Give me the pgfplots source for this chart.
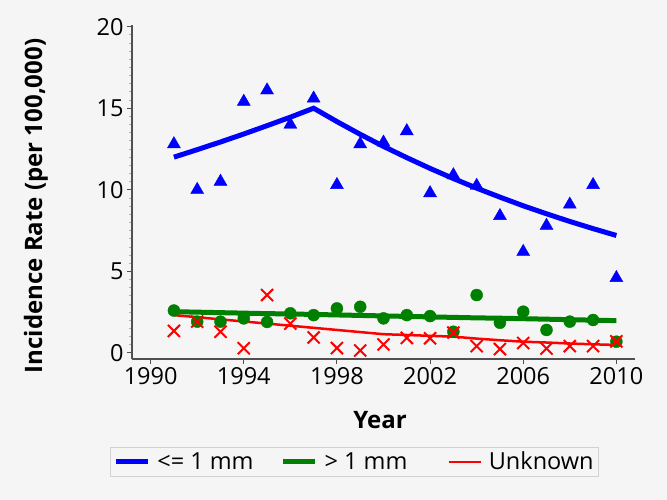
\documentclass[border=0pt]{standalone}
\usepackage{fontspec}
\setmainfont{Open Sans}
\usepackage{pgfplots}
\pgfplotsset{compat=1.18}
\definecolor{bgcol}{RGB}{245,245,245}
\definecolor{axcol}{RGB}{80,80,80}
\definecolor{sasgreen}{RGB}{0,128,0}
\begin{document}
\begin{tikzpicture}[x=1pt,y=1pt]
\fill[bgcol] (0,0) rectangle (667,500);
\begin{axis}[
  at={(132pt,141pt)}, anchor=south west,
  scale only axis, width=503pt, height=334pt,
  xmin=1989.2, xmax=2010.8, ymin=-0.37, ymax=20.1,
  axis lines*=left,
  axis line style={axcol, line width=1.2pt},
  xtick={1990,1994,...,2010}, ytick={0,5,...,20},
  minor y tick num=9,
  tick align=outside,
  major tick length=5pt, minor tick length=3pt,
  every major tick/.style={axcol, line width=1pt},
  every minor tick/.style={gray!60, line width=0.8pt},
  /pgf/number format/assume math mode=true,
  xticklabel style={/pgf/number format/1000 sep={}},
  ticklabel style={font=\fontsize{23.5}{27}\selectfont},
  clip=false,
  legend columns=3,
  legend style={at={(0.4423,-0.3078)}, anchor=center, draw=gray!35, fill=none,
    font=\fontsize{23.5}{27}\selectfont, inner xsep=3pt, inner ysep=3pt,
    /tikz/column 1/.style={column sep=5pt},
    /tikz/column 2/.style={column sep=25pt},
    /tikz/column 3/.style={column sep=5pt},
    /tikz/column 4/.style={column sep=38pt},
    /tikz/column 5/.style={column sep=5pt}},
  legend image code/.code={\draw[#1] (0pt,0pt) -- (32pt,0pt);},
]
\addlegendimage{blue, line width=5pt}
\addlegendentry{<= 1 mm}
\addlegendimage{sasgreen, line width=5pt}
\addlegendentry{> 1 mm}
\addlegendimage{red, line width=2.5pt}
\addlegendentry{Unknown}

% > 1 mm
\addplot[only marks, mark=*, mark size=6pt, sasgreen, forget plot] coordinates {
 (1991,2.6) (1992,1.92) (1993,1.92) (1994,2.12) (1995,1.9) (1996,2.43) (1997,2.32)
 (1998,2.73) (1999,2.83) (2000,2.12) (2001,2.32) (2002,2.26) (2003,1.3) (2004,3.55)
 (2005,1.85) (2006,2.53) (2007,1.41) (2008,1.92) (2009,2.02) (2010,0.69)};
\addplot[sasgreen, line width=5pt, no marks, forget plot] coordinates {
 (1991,2.53) (1992,2.50) (1993,2.47) (1994,2.44) (1995,2.41) (1996,2.39) (1997,2.36)
 (1998,2.33) (1999,2.30) (2000,2.27) (2001,2.24) (2002,2.21) (2003,2.18) (2004,2.15)
 (2005,2.13) (2006,2.10) (2007,2.07) (2008,2.04) (2009,2.01) (2010,1.98)};

% <= 1 mm
\addplot[only marks, mark=triangle*, mark size=7.5pt, blue, forget plot] coordinates {
 (1991,12.8) (1992,10.0) (1993,10.5) (1994,15.4) (1995,16.1) (1996,14.0) (1997,15.6)
 (1998,10.3) (1999,12.8) (2000,12.9) (2001,13.6) (2002,9.8) (2003,10.9) (2004,10.25)
 (2005,8.4) (2006,6.2) (2007,7.8) (2008,9.1) (2009,10.3) (2010,4.6)};
\addplot[blue, line width=5pt, no marks, forget plot] coordinates {
 (1991,12.0) (1992,12.46) (1993,12.93) (1994,13.42) (1995,13.93) (1996,14.45) (1997,15.0)
 (1998,14.18) (1999,13.40) (2000,12.66) (2001,11.97) (2002,11.31) (2003,10.69) (2004,10.10)
 (2005,9.55) (2006,9.02) (2007,8.53) (2008,8.06) (2009,7.62) (2010,7.20)};

% Unknown
\addplot[only marks, mark=x, mark size=8.5pt, red, line width=2pt, forget plot] coordinates {
 (1991,1.35) (1992,1.92) (1993,1.3) (1994,0.29) (1995,3.55) (1996,1.8) (1997,0.95)
 (1998,0.3) (1999,0.15) (2000,0.52) (2001,0.92) (2002,0.9) (2003,1.25) (2004,0.42)
 (2005,0.24) (2006,0.61) (2007,0.27) (2008,0.42) (2009,0.42) (2010,0.71)};
\addplot[red, line width=2.5pt, no marks, forget plot] coordinates {
 (1991,2.32) (1992,2.19) (1993,2.06) (1994,1.93) (1995,1.80) (1996,1.67) (1997,1.54)
 (1998,1.41) (1999,1.28) (2000,1.15) (2001,1.10) (2002,1.05) (2003,1.00) (2004,0.88)
 (2005,0.78) (2006,0.69) (2007,0.64) (2008,0.58) (2009,0.53) (2010,0.49)};
\end{axis}
\node[rotate=90, font=\fontsize{24}{28}\selectfont\bfseries] at (36,294) {Incidence Rate (per 100,000)};
\node[font=\fontsize{24}{28}\selectfont\bfseries] at (380,80) {Year};
\pgfresetboundingbox
\path[use as bounding box] (0,0) rectangle (667,500);
\end{tikzpicture}
\end{document}
